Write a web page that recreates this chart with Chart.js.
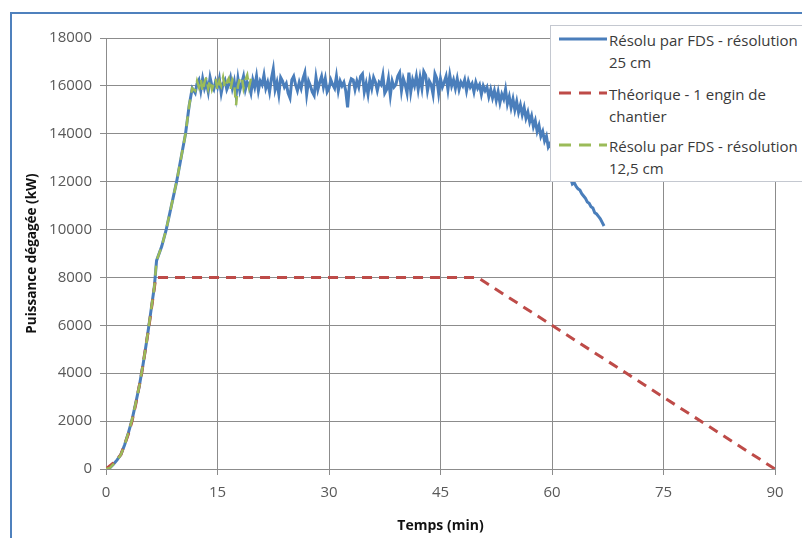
<!DOCTYPE html>
<html>
<head>
<meta charset="utf-8">
<script src="https://cdn.jsdelivr.net/npm/chart.js@4.4.1/dist/chart.umd.min.js"></script>
<style>
  html, body { margin: 0; padding: 0; background: #fff; overflow: hidden; }
  #wrap { position: relative; width: 802px; height: 538px; overflow: hidden; }
  #frame { position: absolute; left: 10px; top: 12px; width: 900px; height: 700px;
           border: 2.5px solid #4f81bd; box-sizing: border-box; }
  canvas { position: absolute; left: 0; top: 0; }
  #legend { position: absolute; left: 550px; top: 25px; width: 300px; height: 157px;
            background: #fff; border: 1px solid #c4c8d0; box-sizing: border-box;
            font-family: "Open Sans", sans-serif; font-size: 15px; color: #3a3a3a; }
  .item { position: absolute; left: 0; }
  .item svg { position: absolute; left: 8px; top: 6px; }
  .item span { position: absolute; left: 58px; top: -1px; line-height: 22px; white-space: nowrap; }
</style>
</head>
<body>
<div id="wrap">
  <div id="frame"></div>
  <canvas id="chart" width="802" height="538"></canvas>
  <div id="legend">
    <div class="item" style="top:4px">
      <svg width="48" height="6"><line x1="0" y1="3" x2="48" y2="3" stroke="#4a7ebb" stroke-width="3"/></svg>
      <span>Résolu par FDS - résolution<br>25 cm</span>
    </div>
    <div class="item" style="top:58px">
      <svg width="48" height="6"><line x1="0" y1="3" x2="48" y2="3" stroke="#be4b48" stroke-width="3" stroke-dasharray="12 8"/></svg>
      <span>Théorique - 1 engin de<br>chantier</span>
    </div>
    <div class="item" style="top:110px">
      <svg width="48" height="6"><line x1="0" y1="3" x2="48" y2="3" stroke="#9bbb59" stroke-width="3" stroke-dasharray="12 8"/></svg>
      <span>Résolu par FDS - résolution<br>12,5 cm</span>
    </div>
  </div>
</div>
<script>
// Données (temps en min, puissance en kW)

// montée commune aux deux calculs FDS
const rampTimes = [0, 0.5, 1, 1.5, 2, 2.5, 3, 3.5, 4, 4.5, 5, 5.5, 6, 6.5, 6.8, 7.5, 8.1, 8.8, 9.5, 10.1, 10.7, 11.2, 11.6];
const rampValues = [0, 40, 200, 380, 600, 1000, 1500, 2050, 2750, 3500, 4400, 5400, 6500, 7600, 8700, 9300, 10000, 11000, 12000, 13000, 14000, 15200, 15900];

// palier bruité : un point toutes les 0,25 min à partir de 12 min
const plateauStart = 12;
const plateauStep = 0.25;

const fds25Values = [
  15700, 16100, 16250, 15800, 16300, 15900, 16150, 15750, 16350, 16000, 15850, 16200, 15950, 16300, 15700, 16100, 16250, 15850, 16050, 16350,
  15900, 16200, 15600, 16300, 15800, 16100, 16400, 15850, 16150, 16000, 15700, 16250, 15950, 16400, 15800, 16200, 16050, 16450, 15900, 16150,
  15750, 16300, 16700, 15850, 16150, 15650, 16350, 16200, 15950, 16100, 15700, 15500, 16250, 16400, 16050, 15800, 16150, 15900, 16300, 16550,
  15650, 16200, 16000, 15750, 15600, 16350, 15850, 16150, 16400, 15950, 16300, 15750, 15900, 16250, 16050, 15900, 16400, 15800, 16200, 16000,
  16150, 15800, 15100, 16050, 16300, 16250, 15850, 16200, 15950, 16400, 16500, 15750, 16100, 15650, 16250, 15900, 16350, 16150, 15800, 16150,
  16050, 16450, 15700, 15850, 16300, 15600, 16200, 15950, 16050, 16400, 16550, 15800, 16300, 16050, 15700, 16550, 15750, 16250, 16000, 16400,
  15850, 16350, 15900, 16600, 16450, 15800, 16200, 16050, 15650, 16500, 16300, 15700, 16300, 15950, 16150, 16400, 15850, 16450, 16000, 16250,
  15900, 16300, 15850, 16150, 16000, 16250, 15800, 16200, 15950, 16100, 15750, 16150, 15900, 16050, 15650, 16000, 15800, 15950, 15550, 15850,
  15500, 15800, 15400, 15750, 15300, 15650, 15450, 15850, 15250, 15550, 15100, 15450, 15000, 15350, 14900, 15200, 14800, 15100, 14650, 14900,
  14500, 14750, 14300, 14550, 14100, 14350, 13900, 14100, 13700, 13900, 13450, 13600, 13300, 13400, 13050, 13100, 12800, 12800, 12550, 12450,
  12300, 12100, 12150, 11900, 11950, 11800, 11700, 11650, 11500, 11400, 11300, 11150, 11100, 10950, 10900, 10700, 10650, 10550, 10450, 10300,
  10150
];

const fds125Values = [
  15800, 16200, 15950, 16300, 15750, 16150, 16350, 15900, 16250, 15850, 16100, 16300, 15800, 16200, 16000, 16350, 15900, 16150, 16300, 15850,
  16250, 16050, 15200, 16000, 16300, 16400, 15900, 16250, 16450, 15950, 16300
];

// courbe théorique (1 engin de chantier)
const theoTimes = [0, 1, 2, 3, 3.5, 4, 4.8, 5.8, 6.7, 50, 90];
const theoValues = [0, 250, 600, 1450, 2000, 2700, 4000, 6000, 8000, 8000, 0];

const xTicks = [0, 15, 30, 45, 60, 75, 90];
const yMax = 18000;
const yStep = 2000;

function toPoints(times, values) {
    return times.map((t, i) => ({ x: t, y: values[i] }));
}

function plateauPoints(values) {
    return values.map((v, i) => ({ x: plateauStart + i * plateauStep, y: v }));
}

document.addEventListener('DOMContentLoaded', function () {
    const ramp = toPoints(rampTimes, rampValues);
    const ctx = document.getElementById('chart').getContext('2d');
    const font = '"Open Sans", sans-serif';

    new Chart(ctx, {
        type: 'line',
        data: {
            datasets: [
                {
                    label: 'Résolu par FDS - résolution 25 cm',
                    data: ramp.concat(plateauPoints(fds25Values)),
                    borderColor: '#4a7ebb',
                    borderWidth: 3,
                    order: 3
                },
                {
                    label: 'Théorique - 1 engin de chantier',
                    data: toPoints(theoTimes, theoValues),
                    borderColor: '#be4b48',
                    borderWidth: 3,
                    borderDash: [10, 7],
                    order: 2
                },
                {
                    label: 'Résolu par FDS - résolution 12,5 cm',
                    data: ramp.concat(plateauPoints(fds125Values)),
                    borderColor: '#9bbb59',
                    borderWidth: 2.5,
                    borderDash: [10, 7],
                    order: 1
                }
            ]
        },
        options: {
            responsive: false,
            animation: false,
            elements: { point: { radius: 0 }, line: { tension: 0 } },
            layout: { padding: { left: 0, right: 27, top: 38, bottom: 0 } },
            plugins: { legend: { display: false }, tooltip: { enabled: false } },
            scales: {
                x: {
                    type: 'linear',
                    min: 0,
                    max: 90,
                    afterBuildTicks: (s) => { s.ticks = xTicks.map(v => ({ value: v })); },
                    afterFit: (s) => { s.height = 69; },
                    grid: { color: '#8c8c8c', lineWidth: 1, tickLength: 6 },
                    border: { color: '#8c8c8c' },
                    ticks: { color: '#595959', font: { family: font, size: 15 }, padding: 9, maxRotation: 0 },
                    title: { display: true, text: 'Temps (min)', color: '#111', font: { family: font, size: 14, weight: 'bold' }, padding: { top: 0 } }
                },
                y: {
                    min: 0,
                    max: yMax,
                    afterFit: (s) => { s.width = 106; },
                    grid: { color: '#8c8c8c', lineWidth: 1, tickLength: 6 },
                    border: { color: '#8c8c8c' },
                    ticks: { stepSize: yStep, color: '#595959', font: { family: font, size: 15 }, padding: 8, callback: v => String(v) },
                    title: { display: true, text: 'Puissance dégagée (kW)', color: '#111', font: { family: font, size: 13.5, weight: 'bold' }, padding: { top: 24, bottom: 0 } }
                }
            }
        }
    });
});
</script>
</body>
</html>
